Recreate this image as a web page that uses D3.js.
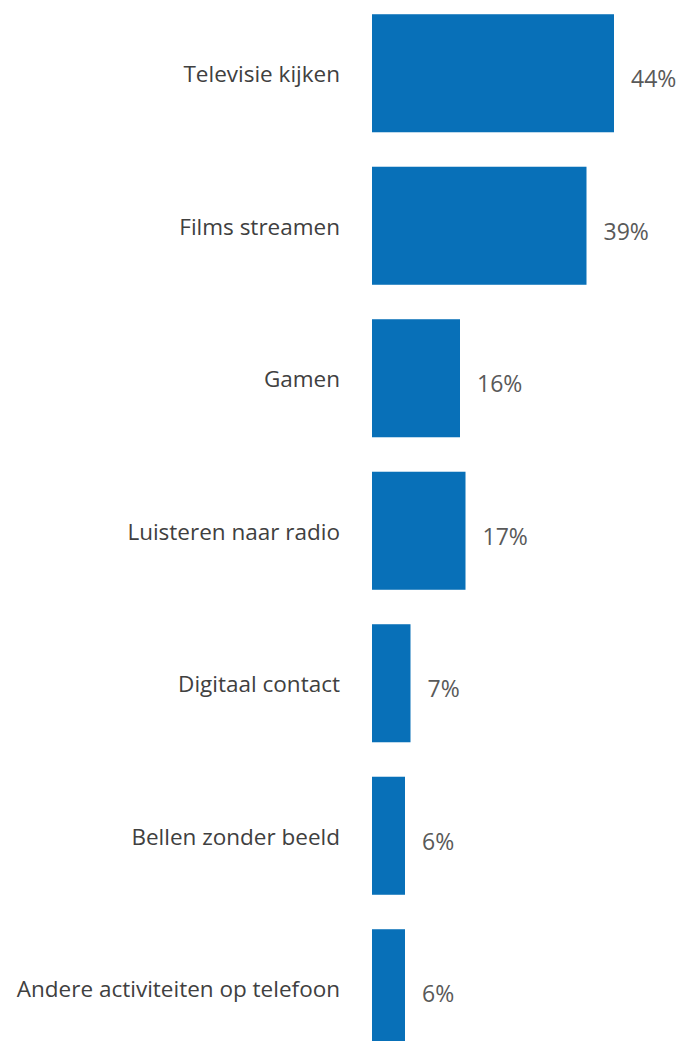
<!DOCTYPE html>
<html>
<head>
<meta charset="utf-8">
<script src="https://cdn.jsdelivr.net/npm/d3@7"></script>
<style>
  html, body { margin: 0; padding: 0; background: #fff; }
  svg { display: block; }
</style>
</head>
<body>
<svg id="chart" width="682" height="1041"></svg>
<script>
// Activities and their share (%)
const categories = [
  "Televisie kijken",
  "Films streamen",
  "Gamen",
  "Luisteren naar radio",
  "Digitaal contact",
  "Bellen zonder beeld",
  "Andere activiteiten op telefoon"
];
const values = [44, 39, 16, 17, 7, 6, 6];
const valueLabels = ["44%", "39%", "16%", "17%", "7%", "6%", "6%"];

const width = 682, height = 1041;
const left = 372;

const svg = d3.select("#chart");

const y = d3.scaleBand()
  .domain(categories)
  .range([-3, 1064.5])
  .paddingInner(0.226)
  .paddingOuter(0.113);

const x = d3.scaleLinear()
  .domain([0, 44])
  .range([left, left + 242]);

const rows = categories.map((c, i) => ({ cat: c, v: values[i], lab: valueLabels[i] }));

svg.append("g")
  .selectAll("rect")
  .data(rows)
  .join("rect")
  .attr("x", x(0))
  .attr("y", d => y(d.cat))
  .attr("width", d => x(d.v) - x(0))
  .attr("height", y.bandwidth())
  .attr("fill", "#0870B8");

// Category labels on the left
svg.append("g")
  .selectAll("text")
  .data(rows)
  .join("text")
  .attr("x", left - 32)
  .attr("y", d => y(d.cat) + y.bandwidth() / 2 + 9)
  .attr("text-anchor", "end")
  .attr("font-family", "'Open Sans', sans-serif")
  .attr("font-size", 22.5)
  .attr("fill", "#404040")
  .text(d => d.cat);

// Value labels to the right of each bar
svg.append("g")
  .selectAll("text")
  .data(rows)
  .join("text")
  .attr("x", d => x(d.v) + 17)
  .attr("y", d => y(d.cat) + y.bandwidth() / 2 + 14)
  .attr("font-family", "'Open Sans', sans-serif")
  .attr("font-size", 23)
  .attr("fill", "#595959")
  .text(d => d.lab);
</script>
</body>
</html>
